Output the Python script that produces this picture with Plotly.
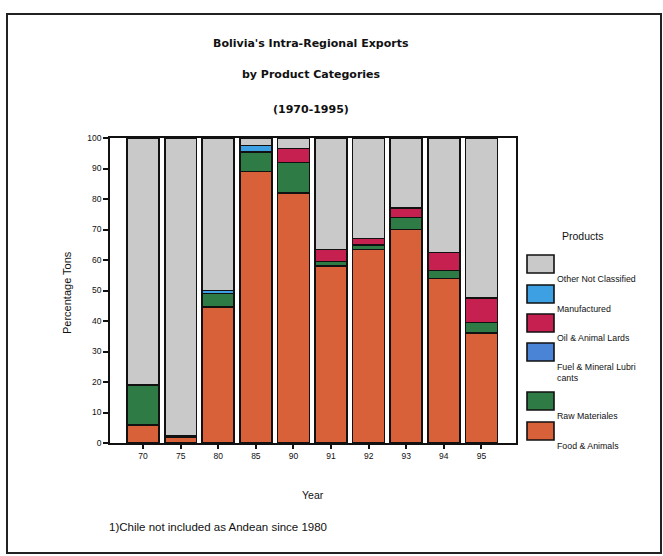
import plotly.graph_objects as go

# ---- data (percent of tons) ----
years = ["70", "75", "80", "85", "90", "91", "92", "93", "94", "95"]
food = [6, 2, 44.5, 89, 82, 58, 63.5, 70, 54, 36]
raw_materials = [13, 0.5, 4.5, 6.5, 10, 1.5, 1.5, 4, 2.5, 3.5]
fuel = [0, 0, 0, 0, 0, 0, 0, 0, 0, 0]
oil = [0, 0, 0, 0, 4.5, 4, 2, 3, 6, 8]
manufactured = [0, 0, 1, 2, 0, 0, 0, 0, 0, 0]
other = [81, 97.5, 50, 2.5, 3.5, 36.5, 33, 23, 37.5, 52.5]

series_names = ["Food & Animals", "Raw Materiales", "Fuel & Mineral Lubricants",
                "Oil & Animal Lards", "Manufactured", "Other Not Classified"]
legend_labels = ["Food & Animals", "Raw Materiales", "Fuel & Mineral Lubri<br>cants",
                 "Oil & Animal Lards", "Manufactured", "Other Not Classified"]
series_values = [food, raw_materials, fuel, oil, manufactured, other]
colors = ["#D8613A", "#2E7B46", "#4A84D6", "#C62050", "#3CA0E2", "#C9C9C9"]
y_ticks = [0, 10, 20, 30, 40, 50, 60, 70, 80, 90, 100]

# plot area in pixels
L, R, T, B = 110, 516, 138, 443
W, H = 663, 556


def px(x):
    return (x - L) / (R - L)


def py(y):
    return (B - y) / (B - T)


fig = go.Figure()
for name, vals, col in zip(series_names, series_values, colors):
    fig.add_trace(go.Bar(x=years, y=vals, name=name, marker_color=col,
                         marker_line_color="#111111", marker_line_width=1.6,
                         showlegend=False))

font = "Liberation Sans, Arial, sans-serif"
tfont = "DejaVu Sans, sans-serif"
ann = []
# title lines
for txt, yy in [("Bolivia's Intra-Regional Exports", 43),
                ("by Product Categories", 75),
                ("(1970-1995)", 109)]:
    ann.append(dict(text="<b>" + txt + "</b>", x=px(311), y=py(yy), xref="paper", yref="paper",
                    showarrow=False, xanchor="center", yanchor="middle",
                    font=dict(family=tfont, size=11, color="#111")))
# axis titles and footnote
ann.append(dict(text="Percentage Tons", x=px(67), y=py(293), xref="paper", yref="paper",
                showarrow=False, textangle=-90, xanchor="center", yanchor="middle",
                font=dict(family=font, size=11, color="#111")))
ann.append(dict(text="Year", x=px(313), y=py(495), xref="paper", yref="paper",
                showarrow=False, xanchor="center", yanchor="middle",
                font=dict(family=font, size=10.5, color="#111")))
ann.append(dict(text="1)Chile not included as Andean since 1980", x=px(107), y=py(527),
                xref="paper", yref="paper", showarrow=False, xanchor="left", yanchor="middle",
                font=dict(family=font, size=11.5, color="#111")))
# legend
ann.append(dict(text="Products", x=px(582), y=py(236), xref="paper", yref="paper",
                showarrow=False, xanchor="center", yanchor="middle",
                font=dict(family=font, size=10.5, color="#111")))

shapes = []
swatch_tops = [422, 392, 343, 314, 285, 255]
for lab, col, top in zip(legend_labels, colors, swatch_tops):
    shapes.append(dict(type="rect", xref="paper", yref="paper",
                       x0=px(527), x1=px(554), y0=py(top), y1=py(top + 18),
                       fillcolor=col, line=dict(color="#111", width=1.6)))
    two = "<br>" in lab
    ann.append(dict(text=lab, x=px(555), y=py(top + 24), xref="paper", yref="paper",
                    showarrow=False, xanchor="left", yanchor="top" if two else "middle",
                    align="left",
                    font=dict(family=font, size=8.8, color="#111"),
                    yshift=7 if two else 0))
# outer frame
shapes.append(dict(type="rect", xref="paper", yref="paper",
                   x0=px(7), x1=px(661), y0=py(553), y1=py(14),
                   line=dict(color="#222", width=2), fillcolor="rgba(0,0,0,0)"))

fig.update_layout(
    width=W, height=H, barmode="stack", bargap=0.15,
    margin=dict(l=L, r=W - R, t=T, b=H - B, pad=0),
    paper_bgcolor="white", plot_bgcolor="white",
    annotations=ann, shapes=shapes,
    font=dict(family=font, size=9, color="#111"),
)
fig.update_xaxes(type="category", range=[-0.88, 9.92], showline=True, linecolor="#111",
                 linewidth=1.5, mirror=True, ticks="outside", ticklen=4, tickwidth=2,
                 tickcolor="#111", showgrid=False, tickfont=dict(size=8.5))
fig.update_yaxes(range=[0, 100], tickvals=y_ticks, showline=True, linecolor="#111",
                 linewidth=1.5, mirror=True, ticks="outside", ticklen=5, tickwidth=2,
                 tickcolor="#111", showgrid=False, zeroline=False, tickfont=dict(size=8.5))

fig.write_html("out.html", config={"displayModeBar": False},
               post_script="document.body.style.margin='0';document.body.style.overflow='hidden';")
